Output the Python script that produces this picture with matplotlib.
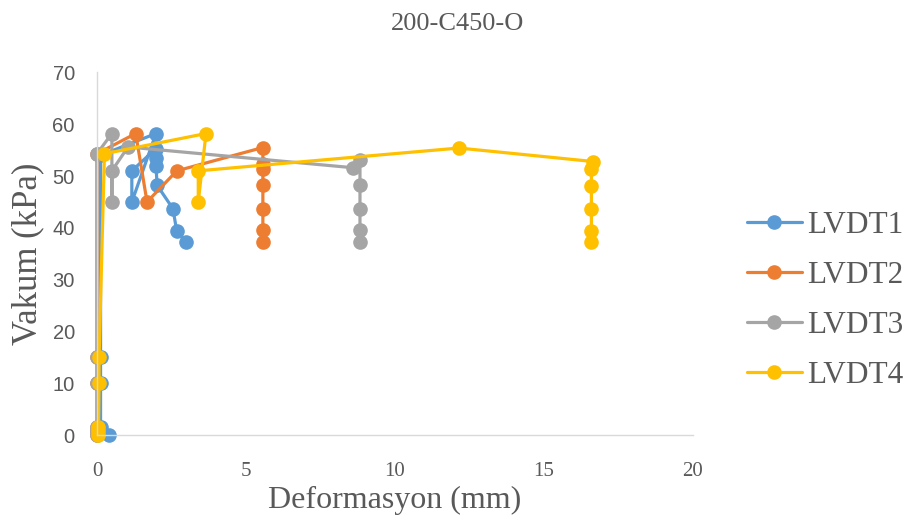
import matplotlib
matplotlib.use("Agg")
import matplotlib.pyplot as plt

# deformation (mm) and vacuum (kPa) per LVDT
lvdt1_x = [0.4, 0.12, 0.12, 0.12, 0.12, 0.12, 1.98, 1.17, 1.17, 1.98, 1.98, 1.98, 2.02, 2.55, 2.68, 3.0]
lvdt1_y = [0, 0.8, 1.5, 10, 15, 54, 58.2, 45, 51, 55.3, 53.4, 52, 48.2, 43.7, 39.3, 37.3]

lvdt2_x = [0, 0, 0, 0, 0, 0, 1.3, 1.68, 2.68, 5.57, 5.57, 5.57, 5.57, 5.57, 5.57, 5.57]
lvdt2_y = [0, 0.8, 1.5, 10, 15, 54.3, 58.2, 45, 51, 55.5, 52.4, 51.4, 48.2, 43.7, 39.5, 37.3]

lvdt3_x = [0, 0, 0, 0, 0, 0, 0.5, 0.5, 0.5, 1.04, 8.6, 8.83, 8.83, 8.83, 8.83, 8.83]
lvdt3_y = [0, 0.8, 1.5, 10, 15, 54.3, 58.2, 45, 51, 55.6, 51.6, 53, 48.2, 43.7, 39.5, 37.3]

lvdt4_x = [0.05, 0.05, 0.05, 0.07, 0.07, 0.25, 3.66, 3.4, 3.4, 12.15, 16.65, 16.6, 16.6, 16.6, 16.6, 16.6]
lvdt4_y = [0, 0.8, 1.5, 10, 15, 54.3, 58.2, 45, 51, 55.4, 52.8, 51.4, 48.1, 43.6, 39.4, 37.2]

labels = ["LVDT1", "LVDT2", "LVDT3", "LVDT4"]
colors = ["#5B9BD5", "#ED7D31", "#A5A5A5", "#FFC000"]
xticks = [0, 5, 10, 15, 20]
yticks = [0, 10, 20, 30, 40, 50, 60, 70]

TXT = "#595959"
SERIF = "Liberation Serif"

fig = plt.figure(figsize=(9.15, 5.32), dpi=100)
ax = fig.add_axes([0.106, 0.182, 0.651, 0.682])

series = [(lvdt1_x, lvdt1_y), (lvdt2_x, lvdt2_y), (lvdt3_x, lvdt3_y), (lvdt4_x, lvdt4_y)]
for (xs, ys), lab, c in zip(series, labels, colors):
    ax.plot(xs, ys, color=c, lw=2.3, marker="o", ms=9.5, label=lab,
            solid_capstyle="round", clip_on=False)

ax.set_xlim(0, 20)
ax.set_ylim(0, 70)
ax.set_xticks(xticks)
ax.set_yticks(yticks)
ax.set_xticklabels([str(t) for t in xticks], family=SERIF, fontsize=15, color=TXT)
ax.set_yticklabels([str(t) for t in yticks], family="Liberation Sans", fontsize=14.5, color=TXT)
ax.tick_params(length=0)
ax.tick_params(axis="x", pad=19)
ax.tick_params(axis="y", pad=16)

for s in ["top", "right"]:
    ax.spines[s].set_visible(False)
for s in ["left", "bottom"]:
    ax.spines[s].set_color("#D9D9D9")
    ax.spines[s].set_linewidth(1.0)

ax.set_xlabel("Deformasyon (mm)", family=SERIF, fontsize=23, color=TXT, labelpad=4)
ax.set_ylabel("Vakum (kPa)", family=SERIF, fontsize=25, color=TXT, labelpad=6)
fig.text(0.5, 0.955, "200-C450-O", ha="center", va="center",
         family=SERIF, fontsize=19, color=TXT)

leg = ax.legend(loc="center left", bbox_to_anchor=(0.816, 0.435),
                bbox_transform=fig.transFigure, frameon=False,
                prop={"family": SERIF, "size": 22.5}, handlelength=1.76,
                handletextpad=0.16, labelspacing=0.67, borderaxespad=0,
                borderpad=0)
for t in leg.get_texts():
    t.set_color(TXT)

fig.savefig("out.png", dpi=100)
